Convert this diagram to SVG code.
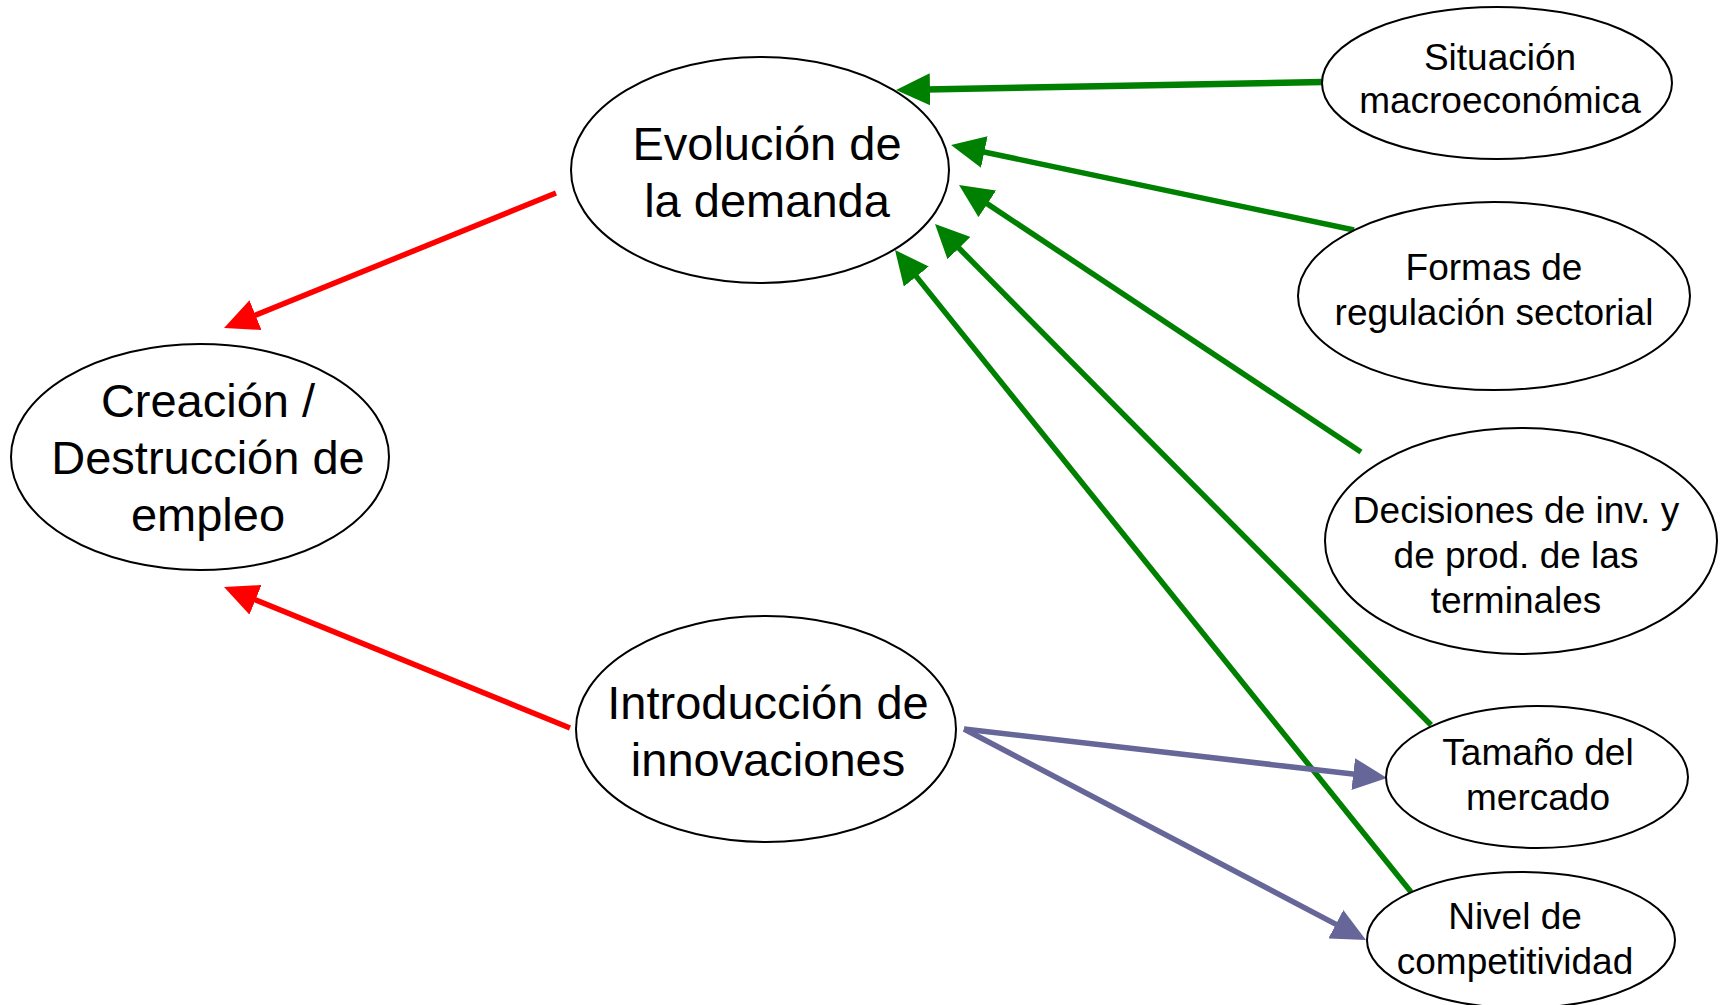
<svg xmlns="http://www.w3.org/2000/svg" width="1722" height="1005" viewBox="0 0 1722 1005">
<style>
.node ellipse{fill:#fff;stroke:#000;stroke-width:2}
.node text{font-family:"Liberation Sans",Arial,sans-serif;fill:#000;text-anchor:middle}
.big{font-size:47px}
.small{font-size:37px}
.red{stroke:#ff0000;stroke-width:5.5;fill:none}
.green{stroke:#008000;stroke-width:5.5;fill:none}
.blue{stroke:#666699;stroke-width:5.5;fill:none}
</style>
<defs>
<marker id="ar" markerUnits="userSpaceOnUse" markerWidth="34" markerHeight="32" refX="4" refY="16" orient="auto" viewBox="0 0 34 32"><path d="M0,0 L34,16 L0,32 z" fill="#ff0000"/></marker>
<marker id="ag" markerUnits="userSpaceOnUse" markerWidth="34" markerHeight="32" refX="4" refY="16" orient="auto" viewBox="0 0 34 32"><path d="M0,0 L34,16 L0,32 z" fill="#008000"/></marker>
<marker id="ab" markerUnits="userSpaceOnUse" markerWidth="34" markerHeight="32" refX="4" refY="16" orient="auto" viewBox="0 0 34 32"><path d="M0,0 L34,16 L0,32 z" fill="#666699"/></marker>
</defs>
<rect width="1722" height="1005" fill="#fff"/>
<g id="connectors">
<line class="red" x1="556" y1="193" x2="251.8" y2="316.7" marker-end="url(#ar)"/>
<line class="red" x1="570" y1="728" x2="251.8" y2="598.3" marker-end="url(#ar)"/>
<line class="green" style="stroke-width:6.5" x1="1323" y1="82" x2="926" y2="89.4" marker-end="url(#ag)"/>
<line class="green" x1="1354" y1="230" x2="980.4" y2="151.2" marker-end="url(#ag)"/>
<line class="green" x1="1361" y1="452" x2="984" y2="201.6" marker-end="url(#ag)"/>
<line class="green" x1="1431" y1="725" x2="956.1" y2="245.3" marker-end="url(#ag)"/>
<line class="green" x1="1411" y1="892" x2="913.8" y2="273.4" marker-end="url(#ag)"/>
<line class="blue" x1="964" y1="729" x2="1357.2" y2="774.5" marker-end="url(#ab)"/>
<line class="blue" x1="964" y1="729" x2="1339.4" y2="926.1" marker-end="url(#ab)"/>
</g>
<g id="evolucion" class="node">
<ellipse cx="760" cy="170" rx="189" ry="113"/>
<text class="big" x="767" y="160">Evolución de</text>
<text class="big" x="767" y="217">la demanda</text>
</g>
<g id="creacion" class="node">
<ellipse cx="200" cy="457" rx="189" ry="113"/>
<text class="big" x="208" y="417">Creación /</text>
<text class="big" x="208" y="474">Destrucción de</text>
<text class="big" x="208" y="531">empleo</text>
</g>
<g id="introduccion" class="node">
<ellipse cx="766" cy="729" rx="190" ry="113"/>
<text class="big" x="768" y="719">Introducción de</text>
<text class="big" x="768" y="776">innovaciones</text>
</g>
<g id="situacion" class="node">
<ellipse cx="1497" cy="83" rx="175" ry="76"/>
<text class="small" x="1500" y="70">Situación</text>
<text class="small" x="1500" y="113">macroeconómica</text>
</g>
<g id="formas" class="node">
<ellipse cx="1494" cy="296" rx="196" ry="94"/>
<text class="small" x="1494" y="280">Formas de</text>
<text class="small" x="1494" y="325">regulación sectorial</text>
</g>
<g id="decisiones" class="node">
<ellipse cx="1521" cy="541" rx="196" ry="113"/>
<text class="small" x="1516" y="523">Decisiones de inv. y</text>
<text class="small" x="1516" y="568">de prod. de las</text>
<text class="small" x="1516" y="613">terminales</text>
</g>
<g id="tamano" class="node">
<ellipse cx="1537" cy="777" rx="151" ry="71"/>
<text class="small" x="1538" y="765">Tamaño del</text>
<text class="small" x="1538" y="810">mercado</text>
</g>
<g id="nivel" class="node">
<ellipse cx="1521" cy="940" rx="154" ry="68"/>
<text class="small" x="1515" y="929">Nivel de</text>
<text class="small" x="1515" y="974">competitividad</text>
</g>
</svg>
